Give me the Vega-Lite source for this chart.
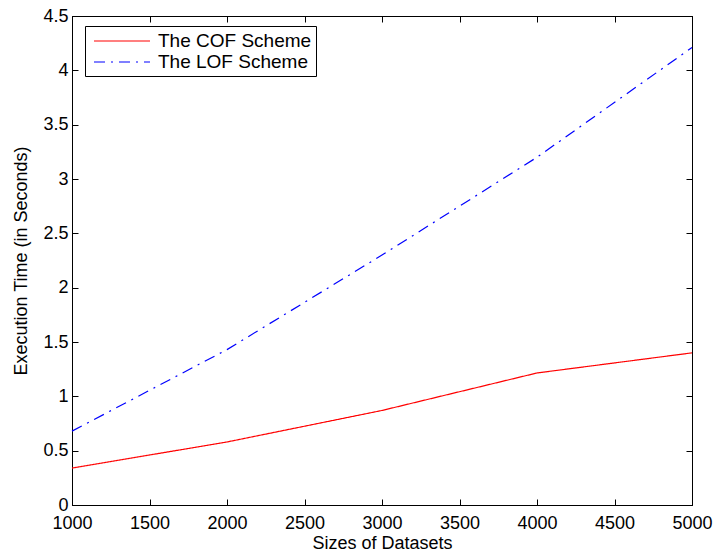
{
  "$schema": "https://vega.github.io/schema/vega-lite/v6.json",
  "width": 620,
  "height": 489,
  "autosize": {"type": "none"},
  "padding": {"left": 72, "top": 16, "right": 22, "bottom": 47},
  "background": "white",
  "config": {
    "view": {"stroke": "black", "strokeWidth": 1},
    "font": "Liberation Sans",
    "axis": {
      "grid": false,
      "domainColor": "black",
      "tickColor": "black",
      "labelColor": "black",
      "titleColor": "black",
      "labelFont": "Liberation Sans",
      "titleFont": "Liberation Sans",
      "labelFontSize": 18,
      "titleFontSize": 18,
      "titleFontWeight": "normal",
      "tickSize": -6,
      "labelPadding": 10
    },
    "legend": {
      "title": null,
      "orient": "none",
      "legendX": 13,
      "legendY": 10,
      "strokeColor": "black",
      "fillColor": "white",
      "padding": 4,
      "symbolType": "M-2.8,0H2.8",
      "symbolSize": 400,
      "symbolOffset": 22,
      "symbolStrokeWidth": 1.2,
      "rowPadding": 0,
      "labelFontSize": 19,
      "labelFont": "Liberation Sans",
      "labelColor": "black",
      "labelOffset": 25
    }
  },
  "data": {
    "values": [
      {"size": 1000, "time": 0.34, "scheme": "The COF Scheme"},
      {"size": 2000, "time": 0.58, "scheme": "The COF Scheme"},
      {"size": 3000, "time": 0.87, "scheme": "The COF Scheme"},
      {"size": 4000, "time": 1.215, "scheme": "The COF Scheme"},
      {"size": 5000, "time": 1.40, "scheme": "The COF Scheme"},
      {"size": 1000, "time": 0.68, "scheme": "The LOF Scheme"},
      {"size": 2000, "time": 1.43, "scheme": "The LOF Scheme"},
      {"size": 3000, "time": 2.30, "scheme": "The LOF Scheme"},
      {"size": 4000, "time": 3.20, "scheme": "The LOF Scheme"},
      {"size": 5000, "time": 4.21, "scheme": "The LOF Scheme"}
    ]
  },
  "layer": [
    {
      "mark": {"type": "line", "strokeWidth": 1.2},
      "encoding": {
        "x": {
          "field": "size", "type": "quantitative",
          "scale": {"domain": [1000, 5000], "nice": false, "zero": false},
          "axis": {"orient": "bottom", "title": "Sizes of Datasets", "values": [1000,1500,2000,2500,3000,3500,4000,4500,5000], "format": "d", "labelPadding": 15, "titlePadding": 2, "labelFlush": false}
        },
        "y": {
          "field": "time", "type": "quantitative",
          "scale": {"domain": [0, 4.5], "nice": false},
          "axis": {"orient": "left", "title": "Execution Time (in Seconds)", "values": [0,0.5,1,1.5,2,2.5,3,3.5,4,4.5], "format": "~g", "titlePadding": 12}
        },
        "color": {
          "field": "scheme", "type": "nominal",
          "scale": {"domain": ["The COF Scheme", "The LOF Scheme"], "range": ["#ff0000", "#0000ff"]}
        },
        "strokeDash": {
          "field": "scheme", "type": "nominal",
          "scale": {"domain": ["The COF Scheme", "The LOF Scheme"], "range": [[1, 0], [11, 6, 2, 6]]}
        }
      }
    },
    {
      "mark": {"type": "line", "opacity": 0},
      "encoding": {
        "x": {
          "field": "size", "type": "quantitative",
          "axis": {"orient": "top", "title": null, "labels": false, "values": [1000,1500,2000,2500,3000,3500,4000,4500,5000]}
        },
        "y": {
          "field": "time", "type": "quantitative",
          "axis": {"orient": "right", "title": null, "labels": false, "values": [0,0.5,1,1.5,2,2.5,3,3.5,4,4.5]}
        },
        "detail": {"field": "scheme"}
      }
    }
  ],
  "resolve": {"axis": {"x": "independent", "y": "independent"}}
}
